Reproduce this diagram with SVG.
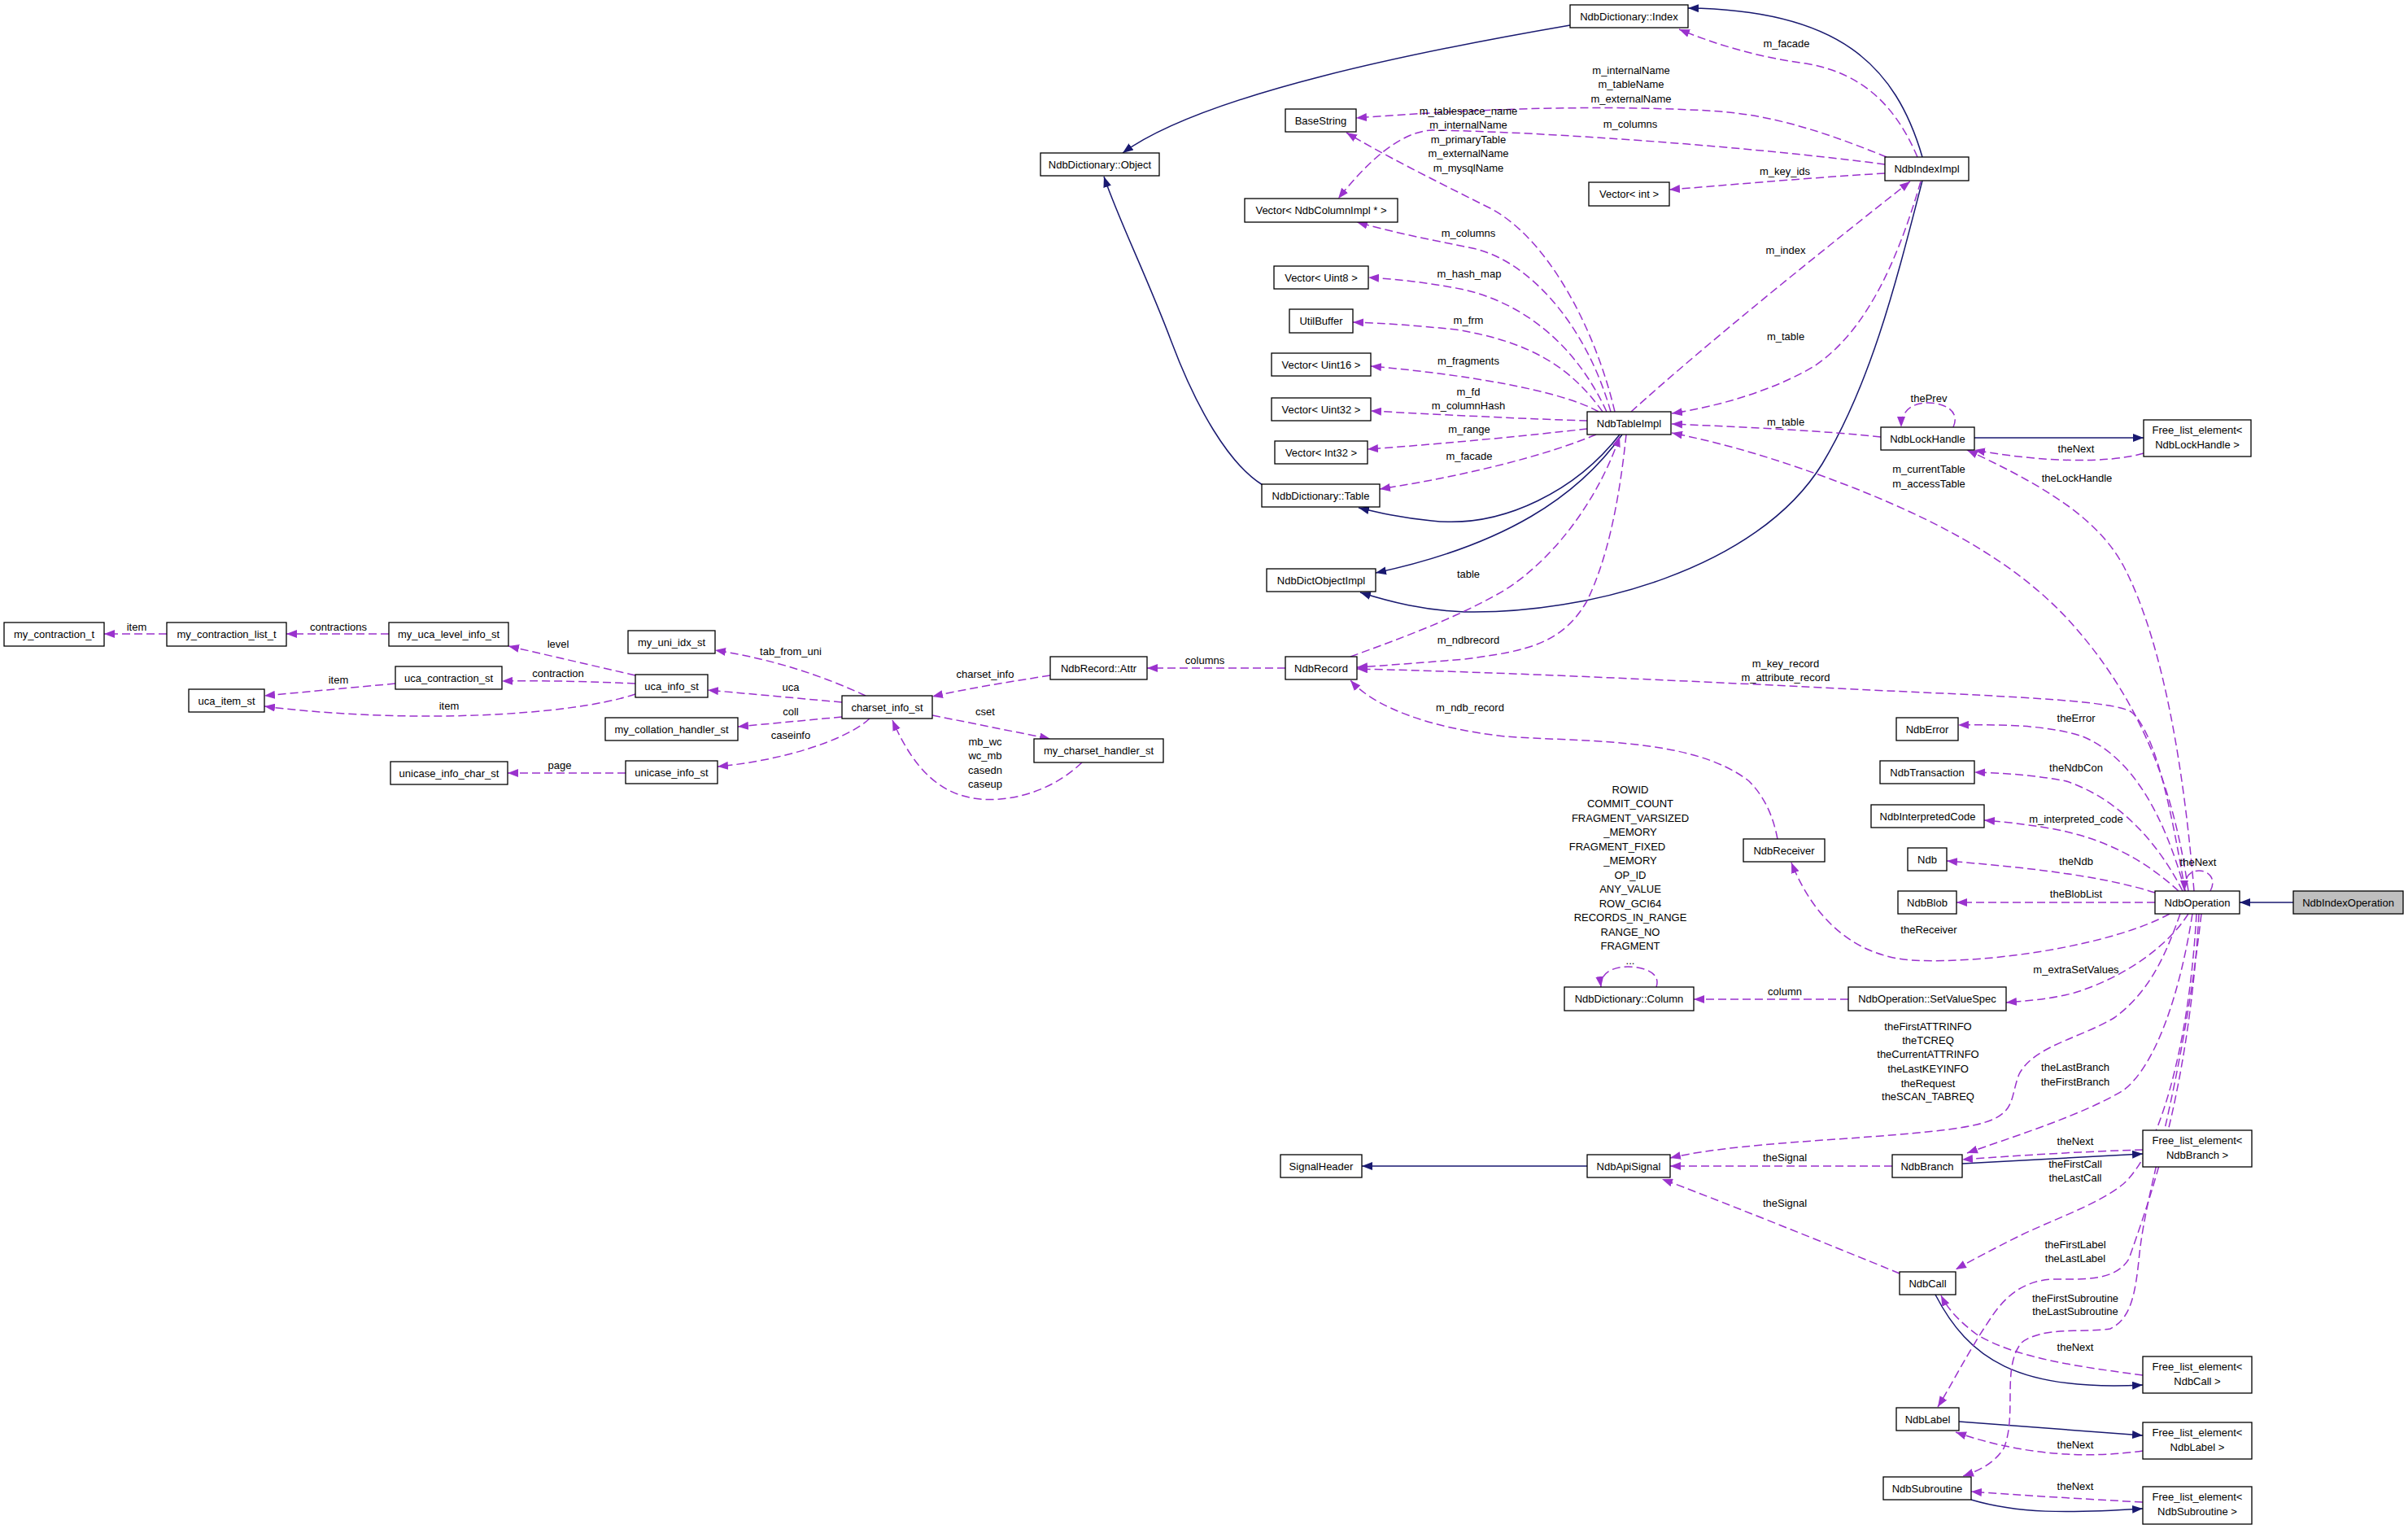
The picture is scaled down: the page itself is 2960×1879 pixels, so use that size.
<svg xmlns="http://www.w3.org/2000/svg" width="2960" height="1879" viewBox="0 0 2960 1879">
<style>
text{font-family:"Liberation Sans",Arial,sans-serif;font-size:13px;fill:#000;text-anchor:middle}
.node rect{fill:#fff;stroke:#000;stroke-width:1.3}
.node rect.hl{fill:#bfbfbf}
.d{fill:none;stroke:#9a32cd;stroke-width:1.5;stroke-dasharray:10,5;marker-end:url(#ap)}
.s{fill:none;stroke:#191970;stroke-width:1.5;marker-end:url(#an)}
</style>
<defs>
<marker id="ap" markerUnits="userSpaceOnUse" markerWidth="13" markerHeight="10" refX="13" refY="5" orient="auto"><path d="M0,0 L13,5 L0,10 z" fill="#9a32cd"/></marker>
<marker id="an" markerUnits="userSpaceOnUse" markerWidth="13" markerHeight="10" refX="13" refY="5" orient="auto"><path d="M0,0 L13,5 L0,10 z" fill="#191970"/></marker>
</defs>
<rect width="2960" height="1879" fill="#fff"/>

<g id="connectors">
<path class="s" d="M2819,1109 L2753,1109"/>
<path class="s" d="M1930,31 C1750,62 1480,115 1380,188"/>
<path class="s" d="M2363,193 C2330,80 2260,12 2075,10"/>
<path class="s" d="M2363,222 C2330,350 2300,470 2240,570 C2160,700 1950,755 1800,752 C1750,750 1710,740 1672,728"/>
<path class="s" d="M1991,534 C1940,600 1850,650 1760,640 C1720,636 1695,630 1670,624"/>
<path class="s" d="M1994,534 C1940,610 1850,670 1691,704"/>
<path class="s" d="M1552,596 C1510,570 1470,500 1440,420 C1410,340 1375,270 1357,217"/>
<path class="s" d="M2427,538 L2635,538"/>
<path class="s" d="M1951,1433 L1674,1433"/>
<path class="s" d="M2412,1430 L2634,1418"/>
<path class="s" d="M2379,1591 C2420,1670 2480,1710 2634,1702"/>
<path class="s" d="M2408,1747 L2634,1764"/>
<path class="s" d="M2423,1843 C2480,1860 2540,1860 2634,1854"/>

<path class="d" d="M205,779 L128,779"/>
<path class="d" d="M478,779 L352,779"/>
<path class="d" d="M781,830 L625,794"/>
<path class="d" d="M781,840 C730,838 680,836 617,837"/>
<path class="d" d="M486,840 L325,855"/>
<path class="d" d="M781,853 C700,880 500,890 325,868"/>
<path class="d" d="M1064,855 C1010,830 950,810 879,799"/>
<path class="d" d="M1035,863 L870,848"/>
<path class="d" d="M1035,881 L907,893"/>
<path class="d" d="M1069,883 C1040,910 960,935 882,942"/>
<path class="d" d="M769,950 L624,950"/>
<path class="d" d="M1146,879 L1291,908"/>
<path class="d" d="M1330,937 C1290,975 1240,985 1205,982 C1160,978 1125,950 1097,885"/>
<path class="d" d="M1291,830 C1240,838 1190,846 1146,856"/>
<path class="d" d="M1580,821 L1410,821"/>

<path class="d" d="M1985,506 C1960,400 1900,290 1830,255 C1760,220 1700,190 1655,163"/>
<path class="d" d="M1980,506 C1950,400 1880,320 1810,305 C1760,295 1710,285 1668,273"/>
<path class="d" d="M1975,506 C1940,430 1880,375 1800,356 C1760,348 1720,343 1682,341"/>
<path class="d" d="M1970,506 C1930,450 1880,420 1790,405 C1740,400 1700,397 1663,396"/>
<path class="d" d="M1965,506 C1920,480 1800,460 1685,450"/>
<path class="d" d="M1951,517 C1880,515 1780,510 1685,505"/>
<path class="d" d="M1951,527 C1880,535 1780,545 1681,552"/>
<path class="d" d="M1962,534 C1900,560 1800,585 1696,601"/>
<path class="d" d="M1660,807 C1720,785 1790,760 1850,725 C1920,680 1970,600 1991,536"/>
<path class="d" d="M1999,534 C1990,620 1975,690 1950,740 C1920,790 1880,800 1800,810 C1740,815 1700,818 1668,820"/>
<path class="d" d="M2357,193 C2330,130 2290,90 2220,78 C2160,70 2110,55 2064,36"/>
<path class="d" d="M2319,193 C2250,165 2180,140 2100,136 C1950,128 1800,135 1667,145"/>
<path class="d" d="M2317,202 C2150,180 1900,162 1760,160 C1720,162 1680,200 1645,244"/>
<path class="d" d="M2317,213 C2200,220 2120,228 2052,233"/>
<path class="d" d="M2005,506 C2100,420 2250,300 2348,223"/>
<path class="d" d="M2361,223 C2330,330 2290,410 2230,450 C2180,480 2110,500 2055,508"/>
<path class="d" d="M2312,537 C2250,530 2150,525 2055,521"/>
<path class="d" d="M2401,525 C2410,505 2390,495 2370,495 C2350,495 2337,505 2337,525"/>
<path class="d" d="M2635,557 C2590,570 2510,568 2427,553"/>
<path class="d" d="M2690,1095 C2670,950 2620,850 2550,770 C2480,690 2380,640 2280,600 C2190,565 2120,545 2055,532"/>
<path class="d" d="M2697,1095 C2685,950 2660,790 2610,695 C2580,640 2520,600 2418,553"/>
<path class="d" d="M2686,1095 C2670,1000 2650,900 2620,875 C2600,862 2500,857 2300,848 C2100,838 1850,826 1668,822"/>
<path class="d" d="M2185,1031 C2180,1005 2170,980 2150,960 C2080,905 1940,912 1850,905 C1760,895 1690,870 1660,836"/>
<path class="d" d="M2686,1095 C2660,1000 2620,930 2560,905 C2520,892 2470,890 2407,891"/>
<path class="d" d="M2683,1095 C2650,1030 2600,980 2540,960 C2500,952 2460,950 2427,949"/>
<path class="d" d="M2678,1095 C2640,1060 2590,1030 2520,1018 C2490,1013 2465,1010 2439,1008"/>
<path class="d" d="M2649,1097 C2580,1075 2480,1065 2393,1058"/>
<path class="d" d="M2649,1109 L2405,1109"/>
<path class="d" d="M2717,1095 C2725,1080 2715,1070 2703,1070 C2690,1070 2685,1080 2685,1095"/>
<path class="d" d="M2667,1123 C2600,1160 2450,1185 2350,1180 C2280,1175 2230,1130 2202,1060"/>
<path class="d" d="M2690,1123 C2660,1170 2600,1205 2550,1220 C2520,1228 2490,1230 2466,1232"/>
<path class="d" d="M2272,1228 L2082,1228"/>
<path class="d" d="M2036,1213 C2042,1195 2020,1188 2001,1188 C1980,1188 1966,1198 1968,1213"/>
<path class="d" d="M2680,1123 C2660,1180 2640,1220 2600,1250 C2560,1275 2500,1285 2482,1320 C2470,1350 2480,1370 2430,1382 C2350,1400 2150,1400 2053,1423"/>
<path class="d" d="M2695,1123 C2680,1220 2650,1310 2610,1340 C2560,1370 2480,1395 2418,1417"/>
<path class="d" d="M2634,1413 C2560,1415 2480,1420 2412,1425"/>
<path class="d" d="M2326,1433 L2053,1433"/>
<path class="d" d="M2700,1123 C2690,1300 2650,1420 2610,1455 C2580,1480 2520,1500 2480,1520 C2450,1535 2425,1548 2404,1560"/>
<path class="d" d="M2335,1565 C2250,1530 2100,1470 2043,1449"/>
<path class="d" d="M2634,1690 C2560,1680 2480,1670 2430,1640 C2410,1625 2395,1610 2386,1592"/>
<path class="d" d="M2703,1123 C2690,1350 2640,1480 2617,1547 C2600,1575 2560,1572 2522,1572 C2480,1575 2460,1600 2445,1623 C2420,1660 2400,1700 2382,1729"/>
<path class="d" d="M2634,1783 C2570,1792 2490,1790 2404,1760"/>
<path class="d" d="M2706,1123 C2680,1350 2640,1450 2630,1540 C2625,1590 2620,1620 2594,1633 C2560,1638 2510,1630 2485,1650 C2460,1680 2480,1740 2463,1780 C2450,1800 2430,1808 2413,1814"/>
<path class="d" d="M2634,1846 C2560,1842 2490,1838 2423,1833"/>

<g id="edge-labels">
<text x="168" y="775">item</text>
<text x="416" y="775">contractions</text>
<text x="686" y="796">level</text>
<text x="686" y="832">contraction</text>
<text x="416" y="840">item</text>
<text x="552" y="872">item</text>
<text x="972" y="805">tab_from_uni</text>
<text x="972" y="849">uca</text>
<text x="972" y="879">coll</text>
<text x="972" y="908">caseinfo</text>
<text x="688" y="945">page</text>
<text x="1211" y="833">charset_info</text>
<text x="1481" y="816">columns</text>
<text x="1211" y="879">cset</text>
<text x="1211" y="916">mb_wc</text>
<text x="1211" y="933">wc_mb</text>
<text x="1211" y="951">casedn</text>
<text x="1211" y="968">caseup</text>
<text x="2196" y="58">m_facade</text>
<text x="2005" y="91">m_internalName</text>
<text x="2005" y="108">m_tableName</text>
<text x="2005" y="126">m_externalName</text>
<text x="1805" y="141">m_tablespace_name</text>
<text x="1805" y="158">m_internalName</text>
<text x="1805" y="176">m_primaryTable</text>
<text x="1805" y="193">m_externalName</text>
<text x="1805" y="211">m_mysqlName</text>
<text x="2004" y="157">m_columns</text>
<text x="2194" y="215">m_key_ids</text>
<text x="1805" y="291">m_columns</text>
<text x="2195" y="312">m_index</text>
<text x="1806" y="341">m_hash_map</text>
<text x="1805" y="398">m_frm</text>
<text x="2195" y="418">m_table</text>
<text x="1805" y="448">m_fragments</text>
<text x="1805" y="486">m_fd</text>
<text x="1805" y="503">m_columnHash</text>
<text x="2371" y="494">thePrev</text>
<text x="2195" y="523">m_table</text>
<text x="1806" y="532">m_range</text>
<text x="2552" y="556">theNext</text>
<text x="1806" y="565">m_facade</text>
<text x="2371" y="581">m_currentTable</text>
<text x="2371" y="599">m_accessTable</text>
<text x="2553" y="592">theLockHandle</text>
<text x="1805" y="710">table</text>
<text x="1805" y="791">m_ndbrecord</text>
<text x="2195" y="820">m_key_record</text>
<text x="2195" y="837">m_attribute_record</text>
<text x="1807" y="874">m_ndb_record</text>
<text x="2552" y="887">theError</text>
<text x="2552" y="948">theNdbCon</text>
<text x="2552" y="1011">m_interpreted_code</text>
<text x="2552" y="1063">theNdb</text>
<text x="2702" y="1064">theNext</text>
<text x="2552" y="1103">theBlobList</text>
<text x="2371" y="1147">theReceiver</text>
<text x="2552" y="1196">m_extraSetValues</text>
<text x="2194" y="1223">column</text>
<text x="2004" y="975">ROWID</text>
<text x="2004" y="992">COMMIT_COUNT</text>
<text x="2004" y="1010">FRAGMENT_VARSIZED</text>
<text x="2004" y="1027">_MEMORY</text>
<text x="1988" y="1045">FRAGMENT_FIXED</text>
<text x="2004" y="1062">_MEMORY</text>
<text x="2004" y="1080">OP_ID</text>
<text x="2004" y="1097">ANY_VALUE</text>
<text x="2004" y="1115">ROW_GCI64</text>
<text x="2004" y="1132">RECORDS_IN_RANGE</text>
<text x="2004" y="1150">RANGE_NO</text>
<text x="2004" y="1167">FRAGMENT</text>
<text x="2004" y="1185">...</text>
<text x="2370" y="1266">theFirstATTRINFO</text>
<text x="2370" y="1283">theTCREQ</text>
<text x="2370" y="1300">theCurrentATTRINFO</text>
<text x="2370" y="1318">theLastKEYINFO</text>
<text x="2370" y="1336">theRequest</text>
<text x="2370" y="1352">theSCAN_TABREQ</text>
<text x="2551" y="1316">theLastBranch</text>
<text x="2551" y="1334">theFirstBranch</text>
<text x="2551" y="1407">theNext</text>
<text x="2551" y="1435">theFirstCall</text>
<text x="2551" y="1452">theLastCall</text>
<text x="2194" y="1427">theSignal</text>
<text x="2194" y="1483">theSignal</text>
<text x="2551" y="1534">theFirstLabel</text>
<text x="2551" y="1551">theLastLabel</text>
<text x="2551" y="1600">theFirstSubroutine</text>
<text x="2551" y="1616">theLastSubroutine</text>
<text x="2551" y="1660">theNext</text>
<text x="2551" y="1780">theNext</text>
<text x="2551" y="1831">theNext</text>
</g>
</g>

<g id="n-NdbIndexOperation" class="node"><rect class="hl" x="2819" y="1095" width="135" height="28"/><text x="2886.5" y="1113.5">NdbIndexOperation</text></g>
<g id="n-NdbOperation" class="node"><rect x="2649" y="1095" width="104" height="28"/><text x="2701" y="1113.5">NdbOperation</text></g>
<g id="n-NdbDictionary-Index" class="node"><rect x="1930" y="6" width="145" height="28"/><text x="2002.5" y="24.5">NdbDictionary::Index</text></g>
<g id="n-NdbDictionary-Object" class="node"><rect x="1279" y="188" width="146" height="28"/><text x="1352" y="206.5">NdbDictionary::Object</text></g>
<g id="n-BaseString" class="node"><rect x="1580" y="134" width="87" height="28"/><text x="1623.5" y="152.5">BaseString</text></g>
<g id="n-VectorNdbColumnImpl" class="node"><rect x="1530" y="244" width="188" height="29"/><text x="1624" y="263">Vector&lt; NdbColumnImpl * &gt;</text></g>
<g id="n-VectorInt" class="node"><rect x="1953" y="224" width="99" height="29"/><text x="2002.5" y="243">Vector&lt; int &gt;</text></g>
<g id="n-NdbIndexImpl" class="node"><rect x="2317" y="193" width="103" height="29"/><text x="2368.5" y="212">NdbIndexImpl</text></g>
<g id="n-VectorUint8" class="node"><rect x="1566" y="327" width="116" height="28"/><text x="1624" y="345.5">Vector&lt; Uint8 &gt;</text></g>
<g id="n-UtilBuffer" class="node"><rect x="1585" y="380" width="78" height="29"/><text x="1624" y="399">UtilBuffer</text></g>
<g id="n-VectorUint16" class="node"><rect x="1563" y="434" width="122" height="28"/><text x="1624" y="452.5">Vector&lt; Uint16 &gt;</text></g>
<g id="n-VectorUint32" class="node"><rect x="1563" y="489" width="122" height="28"/><text x="1624" y="507.5">Vector&lt; Uint32 &gt;</text></g>
<g id="n-VectorInt32" class="node"><rect x="1567" y="542" width="114" height="28"/><text x="1624" y="560.5">Vector&lt; Int32 &gt;</text></g>
<g id="n-NdbDictionary-Table" class="node"><rect x="1551" y="595" width="145" height="28"/><text x="1623.5" y="613.5">NdbDictionary::Table</text></g>
<g id="n-NdbTableImpl" class="node"><rect x="1951" y="506" width="103" height="28"/><text x="2002.5" y="524.5">NdbTableImpl</text></g>
<g id="n-NdbDictObjectImpl" class="node"><rect x="1557" y="699" width="134" height="28"/><text x="1624" y="717.5">NdbDictObjectImpl</text></g>
<g id="n-NdbLockHandle" class="node"><rect x="2312" y="525" width="115" height="28"/><text x="2369.5" y="543.5">NdbLockHandle</text></g>
<g id="n-FreeListNdbLockHandle" class="node"><rect x="2635" y="516" width="132" height="45"/><text x="2701" y="533">Free_list_element&lt;</text><text x="2701" y="551">NdbLockHandle &gt;</text></g>
<g id="n-NdbRecord" class="node"><rect x="1580" y="807" width="88" height="28"/><text x="1624" y="825.5">NdbRecord</text></g>
<g id="n-NdbRecord-Attr" class="node"><rect x="1291" y="807" width="119" height="28"/><text x="1350.5" y="825.5">NdbRecord::Attr</text></g>
<g id="n-charset_info_st" class="node"><rect x="1035" y="855" width="111" height="28"/><text x="1090.5" y="873.5">charset_info_st</text></g>
<g id="n-my_charset_handler_st" class="node"><rect x="1271" y="908" width="159" height="29"/><text x="1350.5" y="927">my_charset_handler_st</text></g>
<g id="n-my_uni_idx_st" class="node"><rect x="772" y="775" width="107" height="28"/><text x="825.5" y="793.5">my_uni_idx_st</text></g>
<g id="n-uca_info_st" class="node"><rect x="781" y="829" width="89" height="28"/><text x="825.5" y="847.5">uca_info_st</text></g>
<g id="n-my_collation_handler_st" class="node"><rect x="744" y="882" width="163" height="28"/><text x="825.5" y="900.5">my_collation_handler_st</text></g>
<g id="n-unicase_info_st" class="node"><rect x="769" y="935" width="113" height="28"/><text x="825.5" y="953.5">unicase_info_st</text></g>
<g id="n-unicase_info_char_st" class="node"><rect x="480" y="936" width="144" height="28"/><text x="552" y="954.5">unicase_info_char_st</text></g>
<g id="n-my_uca_level_info_st" class="node"><rect x="478" y="765" width="147" height="29"/><text x="551.5" y="784">my_uca_level_info_st</text></g>
<g id="n-uca_contraction_st" class="node"><rect x="486" y="819" width="131" height="28"/><text x="551.5" y="837.5">uca_contraction_st</text></g>
<g id="n-uca_item_st" class="node"><rect x="232" y="847" width="93" height="28"/><text x="278.5" y="865.5">uca_item_st</text></g>
<g id="n-my_contraction_list_t" class="node"><rect x="205" y="765" width="147" height="29"/><text x="278.5" y="784">my_contraction_list_t</text></g>
<g id="n-my_contraction_t" class="node"><rect x="5" y="765" width="123" height="29"/><text x="66.5" y="784">my_contraction_t</text></g>
<g id="n-NdbError" class="node"><rect x="2331" y="882" width="76" height="28"/><text x="2369" y="900.5">NdbError</text></g>
<g id="n-NdbTransaction" class="node"><rect x="2311" y="935" width="116" height="28"/><text x="2369" y="953.5">NdbTransaction</text></g>
<g id="n-NdbInterpretedCode" class="node"><rect x="2300" y="989" width="139" height="28"/><text x="2369.5" y="1007.5">NdbInterpretedCode</text></g>
<g id="n-Ndb" class="node"><rect x="2345" y="1042" width="48" height="28"/><text x="2369" y="1060.5">Ndb</text></g>
<g id="n-NdbBlob" class="node"><rect x="2333" y="1095" width="72" height="28"/><text x="2369" y="1113.5">NdbBlob</text></g>
<g id="n-NdbReceiver" class="node"><rect x="2143" y="1031" width="100" height="28"/><text x="2193" y="1049.5">NdbReceiver</text></g>
<g id="n-NdbDictionary-Column" class="node"><rect x="1923" y="1213" width="159" height="29"/><text x="2002.5" y="1232">NdbDictionary::Column</text></g>
<g id="n-SetValueSpec" class="node"><rect x="2272" y="1213" width="194" height="29"/><text x="2369" y="1232">NdbOperation::SetValueSpec</text></g>
<g id="n-SignalHeader" class="node"><rect x="1574" y="1419" width="100" height="28"/><text x="1624" y="1437.5">SignalHeader</text></g>
<g id="n-NdbApiSignal" class="node"><rect x="1951" y="1419" width="102" height="28"/><text x="2002" y="1437.5">NdbApiSignal</text></g>
<g id="n-NdbBranch" class="node"><rect x="2326" y="1419" width="86" height="28"/><text x="2369" y="1437.5">NdbBranch</text></g>
<g id="n-FreeListNdbBranch" class="node"><rect x="2634" y="1389" width="134" height="45"/><text x="2701" y="1406">Free_list_element&lt;</text><text x="2701" y="1424">NdbBranch &gt;</text></g>
<g id="n-NdbCall" class="node"><rect x="2335" y="1563" width="69" height="28"/><text x="2369.5" y="1581.5">NdbCall</text></g>
<g id="n-NdbLabel" class="node"><rect x="2331" y="1730" width="77" height="28"/><text x="2369.5" y="1748.5">NdbLabel</text></g>
<g id="n-NdbSubroutine" class="node"><rect x="2315" y="1815" width="108" height="28"/><text x="2369" y="1833.5">NdbSubroutine</text></g>
<g id="n-FreeListNdbCall" class="node"><rect x="2634" y="1667" width="134" height="45"/><text x="2701" y="1684">Free_list_element&lt;</text><text x="2701" y="1702">NdbCall &gt;</text></g>
<g id="n-FreeListNdbLabel" class="node"><rect x="2634" y="1748" width="134" height="45"/><text x="2701" y="1765">Free_list_element&lt;</text><text x="2701" y="1783">NdbLabel &gt;</text></g>
<g id="n-FreeListNdbSubroutine" class="node"><rect x="2634" y="1827" width="134" height="46"/><text x="2701" y="1844">Free_list_element&lt;</text><text x="2701" y="1862">NdbSubroutine &gt;</text></g>
</svg>
